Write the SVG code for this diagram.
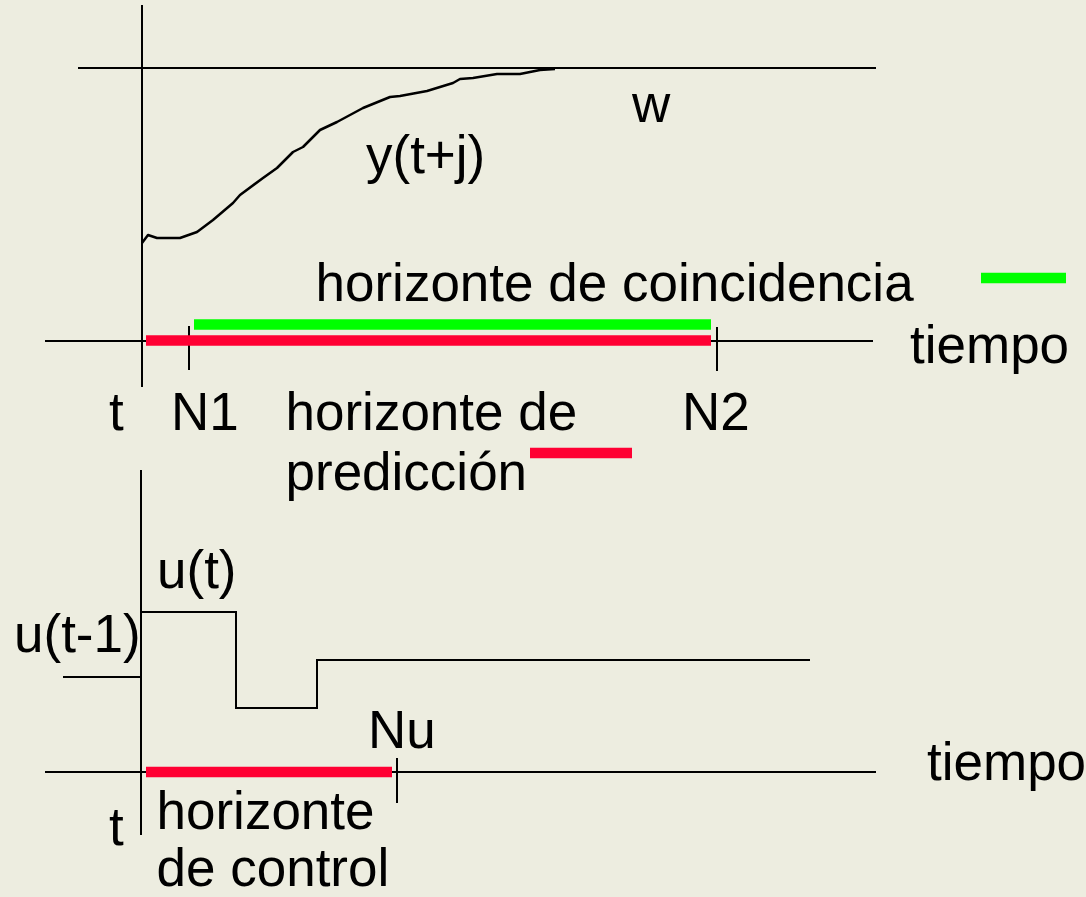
<svg xmlns="http://www.w3.org/2000/svg" width="1086" height="897" viewBox="0 0 1086 897">
<style>
text{font-family:"Liberation Sans",Arial,sans-serif;font-size:53px;fill:#000}
.ax{stroke:#000;stroke-width:2;fill:none}
.cv{stroke:#000;stroke-width:2.5;fill:none;stroke-linejoin:round}
.g{stroke:#00FF00;stroke-width:10.5}
.r{stroke:#FF0033;stroke-width:10.5}
</style>
<rect width="1086" height="897" fill="#EDEDE0"/>
<g id="connectors">
<line class="ax" x1="142" y1="5" x2="142" y2="387"/>
<line class="ax" x1="78" y1="68" x2="876" y2="68"/>
<line class="ax" x1="45" y1="341" x2="873" y2="341"/>
<line class="ax" x1="189" y1="326" x2="189" y2="370"/>
<line class="ax" x1="717" y1="327" x2="717" y2="371"/>
<polyline class="cv" points="142,243 148,235 157,238 180,238 197,232 213,220 233,203 240,195 263,178 277,168 293,152 303,147 320,130 337,122 363,108 390,97 400,96 427,91 453,83 460,79 473,78 497,74 520,74 540,70 555,69"/>
<line class="g" x1="194" y1="324.5" x2="711" y2="324.5"/>
<line class="r" x1="146" y1="340.5" x2="711" y2="340.5"/>
<line class="g" x1="981" y1="278" x2="1066" y2="278"/>
<line class="r" x1="530" y1="453" x2="632" y2="453"/>
<line class="ax" x1="141" y1="470" x2="141" y2="835"/>
<line class="ax" x1="63" y1="677" x2="141" y2="677"/>
<polyline class="ax" points="142,612 236,612 236,708 317,708 317,660 810,660"/>
<line class="ax" x1="45" y1="772" x2="876" y2="772"/>
<line class="r" x1="146" y1="772" x2="392" y2="772"/>
<line class="ax" x1="397" y1="758" x2="397" y2="803"/>
</g>
<g id="label-w"><text x="632" y="122">w</text></g>
<g id="label-y"><text x="366" y="173">y(t+j)</text></g>
<g id="label-coinc"><text x="315.5" y="301">horizonte de coincidencia</text></g>
<g id="label-tiempo1"><text x="910" y="363">tiempo</text></g>
<g id="label-t1"><text x="109" y="430">t</text></g>
<g id="label-N1"><text x="171" y="430">N1</text></g>
<g id="label-pred"><text x="285.5" y="430">horizonte de</text><text x="285.5" y="490">predicción</text></g>
<g id="label-N2"><text x="682" y="430">N2</text></g>
<g id="label-ut"><text x="157" y="588">u(t)</text></g>
<g id="label-ut1"><text x="14" y="652">u(t-1)</text></g>
<g id="label-Nu"><text x="368" y="748">Nu</text></g>
<g id="label-tiempo2"><text x="927" y="780">tiempo</text></g>
<g id="label-t2"><text x="109" y="845">t</text></g>
<g id="label-control"><text x="156.5" y="829">horizonte</text><text x="156.5" y="886">de control</text></g>
</svg>
